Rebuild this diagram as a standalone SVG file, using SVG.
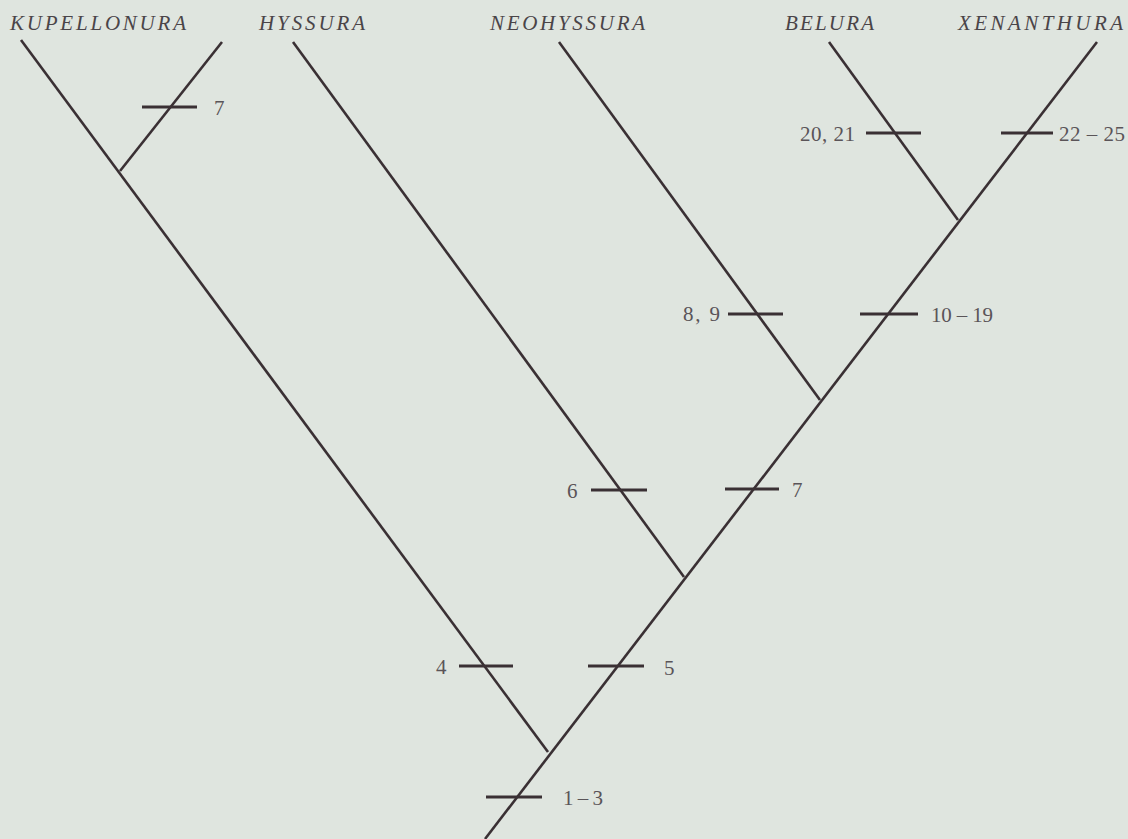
<svg xmlns="http://www.w3.org/2000/svg" width="1128" height="839" viewBox="0 0 1128 839">
<style>
.br{stroke:#3a3034;stroke-width:2.6;fill:none;stroke-linecap:butt}
.tk{stroke:#3a3034;stroke-width:3;fill:none}
.tx{font-family:"Liberation Serif","Times New Roman",serif;font-style:italic;font-size:21px;fill:#4a4448}
.nm{font-family:"Liberation Serif","Times New Roman",serif;font-size:21px;fill:#5a5458}
</style>
<rect width="1128" height="839" fill="#dfe5df"/>
<g id="taxa">
<g id="kupellonura"><text class="tx" x="10" y="30" textLength="176" lengthAdjust="spacing">KUPELLONURA</text></g>
<g id="hyssura"><text class="tx" x="259" y="30" textLength="106" lengthAdjust="spacing">HYSSURA</text></g>
<g id="neohyssura"><text class="tx" x="490" y="30" textLength="155" lengthAdjust="spacing">NEOHYSSURA</text></g>
<g id="belura"><text class="tx" x="785" y="30" textLength="89" lengthAdjust="spacing">BELURA</text></g>
<g id="xenanthura"><text class="tx" x="958" y="30" textLength="165" lengthAdjust="spacing">XENANTHURA</text></g>
</g>
<g id="connectors">
<line class="br" x1="485" y1="839" x2="1097" y2="42"/>
<line class="br" x1="548" y1="752" x2="21" y2="40"/>
<line class="br" x1="120" y1="171" x2="222" y2="42"/>
<line class="br" x1="684" y1="577" x2="293" y2="42"/>
<line class="br" x1="820" y1="400" x2="559" y2="42"/>
<line class="br" x1="958" y1="220" x2="829" y2="42"/>
</g>
<g id="characters">
<g id="c7a"><line class="tk" x1="142" y1="107" x2="197" y2="107"/><text class="nm" x="214" y="115">7</text></g>
<g id="c20"><line class="tk" x1="866" y1="133" x2="921" y2="133"/><text class="nm" x="855" y="141" text-anchor="end" textLength="55" lengthAdjust="spacing">20, 21</text></g>
<g id="c22"><line class="tk" x1="1001" y1="133" x2="1053" y2="133"/><text class="nm" x="1059" y="141" textLength="66" lengthAdjust="spacing">22 – 25</text></g>
<g id="c8"><line class="tk" x1="728" y1="314" x2="783" y2="314"/><text class="nm" x="720" y="321" text-anchor="end" textLength="37" lengthAdjust="spacing">8, 9</text></g>
<g id="c10"><line class="tk" x1="860" y1="314" x2="918" y2="314"/><text class="nm" x="931" y="322" textLength="62" lengthAdjust="spacing">10 – 19</text></g>
<g id="c6"><line class="tk" x1="591" y1="490" x2="647" y2="490"/><text class="nm" x="567" y="498">6</text></g>
<g id="c7b"><line class="tk" x1="725" y1="489" x2="779" y2="489"/><text class="nm" x="792" y="497">7</text></g>
<g id="c4"><line class="tk" x1="459" y1="666" x2="513" y2="666"/><text class="nm" x="436" y="674">4</text></g>
<g id="c5"><line class="tk" x1="588" y1="666" x2="644" y2="666"/><text class="nm" x="664" y="675">5</text></g>
<g id="c1"><line class="tk" x1="486" y1="797" x2="542" y2="797"/><text class="nm" x="563" y="805" textLength="40" lengthAdjust="spacing">1 – 3</text></g>
</g>
</svg>
